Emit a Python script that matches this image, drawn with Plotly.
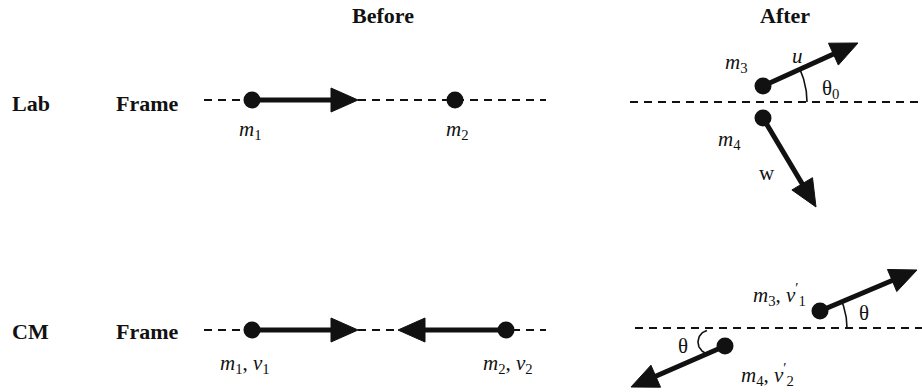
"""
Elastic collision diagram: lab frame vs. CM frame, before and after.
"""
import numpy as np
import plotly.graph_objects as go

W, H = 922, 392

INK = "#111111"
SERIF = "Liberation Serif, Times New Roman, serif"

# baselines (dashed), diagram pixel coords, y grows downward
line_x0 = [204, 630, 204, 635]
line_x1 = [546, 922, 546, 922]
line_y = [100, 102, 330, 328]

# particles
dot_x = [252, 455, 763, 763, 252, 506, 820, 725]
dot_y = [100, 100, 86, 118, 330, 330, 311, 346]

# velocity arrows: tail -> tip
arrow_x0 = [252, 763, 763, 252, 506, 820, 725]
arrow_y0 = [100, 86, 118, 330, 330, 311, 346]
arrow_x1 = [358, 858, 816, 358, 398, 917, 631]
arrow_y1 = [100, 43, 207, 330, 330, 270, 387]

# angle arcs: centre, radius, start/end angle (deg, ccw, y up)
arc_cx = [728, 776, 710]
arc_cy = [102, 328, 342]
arc_r = [79, 71, 12]
arc_a0 = [0, 0, 105]
arc_a1 = [25, 23, 245]

# text labels (bold headings first)
head_text = ["Before", "After", "Lab", "Frame", "CM", "Frame"]
head_x = [383, 785, 31, 147, 30, 147]
head_y = [15, 15, 103, 103, 331, 331]

label_text = [
    "<i>m</i><sub>1</sub>", "<i>m</i><sub>2</sub>",
    "<i>m</i><sub>3</sub>", "<i>u</i>", "θ<sub>0</sub>",
    "<i>m</i><sub>4</sub>", "w",
    "<i>m</i><sub>1</sub>, <i>v</i><sub>1</sub>",
    "<i>m</i><sub>2</sub>, <i>v</i><sub>2</sub>",
    "<i>m</i><sub>3</sub>, <i>v</i><sup>′</sup><sub>1</sub>", "θ",
    "θ", "<i>m</i><sub>4</sub>, <i>v</i><sup>′</sup><sub>2</sub>",
]
label_x = [250, 457, 736, 797, 830, 729, 767, 245, 508, 779, 864, 683, 767]
label_y = [130, 130, 63, 56, 89, 140, 173, 364, 364, 294, 313, 346, 374]


def arrow_head(x0, y0, x1, y1, length=27, half=12):
    """Filled triangle path at the tip of an arrow, plus the shaft end point."""
    d = np.array([x1 - x0, y1 - y0], dtype=float)
    d /= np.hypot(*d)
    n = np.array([-d[1], d[0]])
    tip = np.array([x1, y1], dtype=float)
    base = tip - length * d
    c1 = base + half * n
    c2 = base - half * n
    path = f"M {tip[0]},{tip[1]} L {c1[0]},{c1[1]} L {c2[0]},{c2[1]} Z"
    return path, base + 2 * d


fig = go.Figure()

shapes = []
for x0, x1, y in zip(line_x0, line_x1, line_y):
    shapes.append(dict(type="line", x0=x0, x1=x1, y0=y, y1=y, xref="x", yref="y",
                       line=dict(color=INK, width=2, dash="8px,6px"), layer="below"))

for x0, y0, x1, y1 in zip(arrow_x0, arrow_y0, arrow_x1, arrow_y1):
    path, shaft_end = arrow_head(x0, y0, x1, y1)
    shapes.append(dict(type="line", x0=x0, y0=y0, x1=shaft_end[0], y1=shaft_end[1],
                       xref="x", yref="y", line=dict(color=INK, width=5)))
    shapes.append(dict(type="path", path=path, xref="x", yref="y",
                       fillcolor=INK, line=dict(color=INK, width=1)))

fig.update_layout(shapes=shapes)

# angle arcs
for cx, cy, r, a0, a1 in zip(arc_cx, arc_cy, arc_r, arc_a0, arc_a1):
    t = np.radians(np.linspace(a0, a1, 40))
    fig.add_trace(go.Scatter(
        x=cx + r * np.cos(t), y=cy - r * np.sin(t),
        mode="lines", line=dict(color=INK, width=1.6), hoverinfo="skip",
    ))

# particles
fig.add_trace(go.Scatter(
    x=dot_x, y=dot_y, mode="markers",
    marker=dict(color=INK, size=17, line=dict(width=0)),
    hoverinfo="skip",
))

for txt, x, y in zip(head_text, head_x, head_y):
    fig.add_annotation(x=x, y=y, xref="x", yref="y", text=f"<b>{txt}</b>",
                       showarrow=False, font=dict(family=SERIF, size=22, color=INK),
                       xanchor="center", yanchor="middle")

for txt, x, y in zip(label_text, label_x, label_y):
    fig.add_annotation(x=x, y=y, xref="x", yref="y", text=txt, showarrow=False,
                       font=dict(family=SERIF, size=21, color=INK),
                       xanchor="center", yanchor="middle")

fig.update_layout(
    width=W, height=H,
    margin=dict(l=0, r=0, t=0, b=0),
    paper_bgcolor="white", plot_bgcolor="white",
    showlegend=False,
    xaxis=dict(range=[0, W], visible=False, fixedrange=True),
    yaxis=dict(range=[H, 0], visible=False, fixedrange=True),
)

fig.write_html("out.html", config={"displayModeBar": False},
               post_script="document.body.style.margin='0';")
